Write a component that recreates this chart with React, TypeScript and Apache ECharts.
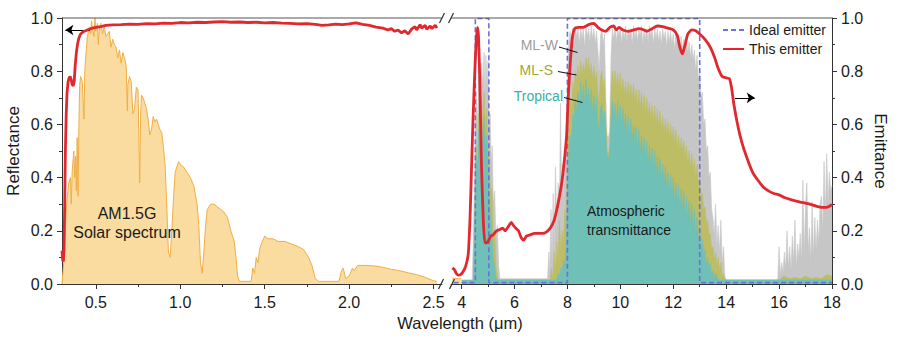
import React, { useEffect, useRef } from 'react';
import * as echarts from 'echarts';

const FONT = '"Liberation Sans", Arial, Helvetica, sans-serif';

// ---- axis ticks ----
const leftTicks = [0.5, 1.0, 1.5, 2.0, 2.5];
const leftMinorTicks = [0.75, 1.25, 1.75, 2.25];
const rightTicks = [4, 6, 8, 10, 12, 14, 16, 18];
const rightMinorTicks = [5, 7, 9, 11, 13, 15, 17];

// ---- left panel: normalized AM1.5G solar spectrum ----
const solarSpectrum: [number, number][] = [
  [0.3, 0.0], [0.31, 0.08], [0.32, 0.22], [0.33, 0.32], [0.34, 0.38], [0.35, 0.4], [0.355, 0.3],
  [0.36, 0.42], [0.37, 0.5], [0.375, 0.4], [0.38, 0.48], [0.385, 0.35], [0.39, 0.55], [0.395, 0.33],
  [0.4, 0.6], [0.405, 0.75], [0.41, 0.78], [0.42, 0.76], [0.43, 0.62], [0.435, 0.8], [0.44, 0.85],
  [0.45, 0.93], [0.46, 0.96], [0.47, 0.94], [0.475, 0.99], [0.48, 0.96], [0.49, 0.93], [0.495, 1.0],
  [0.5, 0.95], [0.51, 0.98], [0.515, 0.9], [0.52, 0.95], [0.525, 0.97], [0.53, 0.98], [0.54, 0.94],
  [0.55, 0.97], [0.56, 0.93], [0.57, 0.94], [0.58, 0.95], [0.59, 0.89], [0.6, 0.92], [0.61, 0.9],
  [0.62, 0.89], [0.63, 0.85], [0.64, 0.88], [0.65, 0.83], [0.66, 0.87], [0.67, 0.85], [0.68, 0.82],
  [0.687, 0.65], [0.69, 0.75], [0.7, 0.78], [0.71, 0.76], [0.72, 0.64], [0.73, 0.66], [0.74, 0.74],
  [0.75, 0.73], [0.76, 0.38], [0.765, 0.62], [0.77, 0.71], [0.78, 0.7], [0.79, 0.68], [0.8, 0.66],
  [0.81, 0.62], [0.82, 0.56], [0.83, 0.58], [0.84, 0.63], [0.85, 0.61], [0.86, 0.62], [0.87, 0.6],
  [0.88, 0.58], [0.89, 0.57], [0.9, 0.52], [0.91, 0.45], [0.92, 0.3], [0.93, 0.12], [0.94, 0.1],
  [0.95, 0.2], [0.96, 0.32], [0.97, 0.42], [0.98, 0.44], [0.99, 0.46], [1.0, 0.45], [1.02, 0.44],
  [1.04, 0.42], [1.06, 0.4], [1.08, 0.37], [1.1, 0.3], [1.11, 0.22], [1.12, 0.08], [1.13, 0.04],
  [1.14, 0.12], [1.15, 0.22], [1.16, 0.28], [1.18, 0.3], [1.2, 0.3], [1.22, 0.29], [1.24, 0.28],
  [1.26, 0.27], [1.28, 0.25], [1.3, 0.2], [1.32, 0.16], [1.33, 0.1], [1.34, 0.03], [1.35, 0.01],
  [1.4, 0.01], [1.42, 0.01], [1.43, 0.06], [1.44, 0.04], [1.45, 0.1], [1.46, 0.08], [1.47, 0.13],
  [1.48, 0.15], [1.5, 0.18], [1.52, 0.17], [1.55, 0.17], [1.58, 0.16], [1.62, 0.16], [1.66, 0.15],
  [1.7, 0.14], [1.73, 0.13], [1.76, 0.1], [1.78, 0.07], [1.8, 0.02], [1.82, 0.01], [1.94, 0.01],
  [1.955, 0.05], [1.965, 0.06], [1.98, 0.02], [2.0, 0.03], [2.02, 0.06], [2.03, 0.05], [2.05, 0.07],
  [2.1, 0.07], [2.15, 0.068], [2.2, 0.063], [2.25, 0.055], [2.3, 0.05], [2.35, 0.042], [2.4, 0.035],
  [2.45, 0.025], [2.5, 0.012], [2.52, 0.01],
];

// ---- left panel: reflectance of this emitter ----
const reflectance: [number, number][] = [
  [0.3, 0.125], [0.304, 0.09], [0.308, 0.085], [0.312, 0.13], [0.316, 0.3], [0.32, 0.5], [0.325, 0.64],
  [0.33, 0.72], [0.336, 0.76], [0.342, 0.775], [0.348, 0.78], [0.354, 0.77], [0.36, 0.75], [0.366, 0.745],
  [0.372, 0.76], [0.378, 0.82], [0.385, 0.87], [0.393, 0.905], [0.4, 0.925], [0.41, 0.94], [0.425, 0.948],
  [0.44, 0.952], [0.46, 0.958], [0.48, 0.962], [0.5, 0.965], [0.53, 0.968], [0.56, 0.972], [0.6, 0.974],
  [0.65, 0.975], [0.7, 0.977], [0.75, 0.976], [0.8, 0.979], [0.85, 0.978], [0.9, 0.981], [0.95, 0.98],
  [1.0, 0.983], [1.05, 0.982], [1.1, 0.984], [1.15, 0.983], [1.2, 0.985], [1.25, 0.986], [1.3, 0.984],
  [1.35, 0.985], [1.4, 0.983], [1.45, 0.984], [1.5, 0.982], [1.55, 0.983], [1.6, 0.981], [1.65, 0.98],
  [1.7, 0.978], [1.75, 0.979], [1.8, 0.976], [1.84, 0.972], [1.88, 0.974], [1.92, 0.977], [1.96, 0.975],
  [2.0, 0.978], [2.04, 0.982], [2.08, 0.976], [2.12, 0.972], [2.16, 0.966], [2.2, 0.962], [2.23, 0.955],
  [2.25, 0.96], [2.27, 0.95], [2.29, 0.955], [2.31, 0.944], [2.33, 0.952], [2.35, 0.94], [2.37, 0.958],
  [2.39, 0.968], [2.4, 0.955], [2.42, 0.975], [2.43, 0.962], [2.45, 0.972], [2.46, 0.958], [2.48, 0.97],
  [2.49, 0.96], [2.51, 0.973], [2.52, 0.962],
];
const reflectanceArrow: [number, number][] = [[0.466, 0.955], [0.32, 0.955]];

// ---- right panel ----
const solarTail: [number, number][] = [[3.65, 0.02], [3.97, 0.02]];

const mlW: [number, number][] = [
  [4.4, 0.015], [4.45, 0.2], [4.5, 0.45], [4.55, 0.72], [4.6, 0.6], [4.65, 0.78], [4.7, 0.68], [4.75, 0.83],
  [4.8, 0.74], [4.85, 0.87], [4.88, 0.7], [4.92, 0.86], [4.96, 0.72], [5.0, 0.84], [5.04, 0.6], [5.08, 0.64],
  [5.12, 0.45], [5.16, 0.52], [5.2, 0.3], [5.25, 0.35], [5.3, 0.16], [5.35, 0.22], [5.4, 0.07], [5.45, 0.02],
  [7.25, 0.02], [7.3, 0.12], [7.33, 0.03], [7.38, 0.28], [7.42, 0.08], [7.46, 0.34], [7.5, 0.12], [7.55, 0.44],
  [7.6, 0.2], [7.65, 0.38], [7.7, 0.3], [7.74, 0.68], [7.78, 0.35], [7.82, 0.45], [7.86, 0.32], [7.9, 0.5],
  [7.95, 0.42], [8.0, 0.72], [8.05, 0.9], [8.1, 0.95], [8.15, 0.9], [8.2, 0.96], [8.25, 0.91], [8.3, 0.97],
  [8.35, 0.93], [8.4, 0.96], [8.45, 0.9], [8.5, 0.97], [8.55, 0.92], [8.6, 0.96], [8.65, 0.89], [8.7, 0.97],
  [8.75, 0.93], [8.8, 0.96], [8.85, 0.91], [8.9, 0.97], [8.95, 0.92], [9.0, 0.96], [9.05, 0.9], [9.1, 0.95],
  [9.15, 0.88], [9.2, 0.8], [9.25, 0.93], [9.3, 0.96], [9.35, 0.9], [9.4, 0.94], [9.45, 0.7], [9.5, 0.56],
  [9.55, 0.55], [9.6, 0.58], [9.65, 0.86], [9.7, 0.96], [9.75, 0.92], [9.8, 0.97], [9.85, 0.91], [9.9, 0.96],
  [9.95, 0.93], [10.0, 0.97], [10.05, 0.9], [10.1, 0.96], [10.15, 0.92], [10.2, 0.97], [10.25, 0.91],
  [10.3, 0.96], [10.35, 0.93], [10.4, 0.96], [10.45, 0.9], [10.5, 0.97], [10.55, 0.92], [10.6, 0.96],
  [10.65, 0.91], [10.7, 0.96], [10.75, 0.93], [10.8, 0.97], [10.85, 0.9], [10.9, 0.96], [10.95, 0.92],
  [11.0, 0.96], [11.05, 0.91], [11.1, 0.97], [11.15, 0.93], [11.2, 0.96], [11.25, 0.9], [11.3, 0.96],
  [11.35, 0.92], [11.4, 0.96], [11.45, 0.91], [11.5, 0.95], [11.55, 0.9], [11.6, 0.96], [11.65, 0.92],
  [11.7, 0.95], [11.75, 0.89], [11.8, 0.95], [11.85, 0.91], [11.9, 0.95], [11.95, 0.9], [12.0, 0.94],
  [12.05, 0.88], [12.1, 0.94], [12.15, 0.9], [12.2, 0.93], [12.25, 0.87], [12.3, 0.93], [12.35, 0.88],
  [12.4, 0.92], [12.45, 0.86], [12.5, 0.92], [12.55, 0.87], [12.6, 0.91], [12.65, 0.85], [12.7, 0.9],
  [12.75, 0.84], [12.8, 0.88], [12.85, 0.8], [12.9, 0.86], [12.95, 0.76], [13.0, 0.8], [13.05, 0.7],
  [13.1, 0.72], [13.15, 0.6], [13.2, 0.62], [13.25, 0.5], [13.3, 0.52], [13.35, 0.4], [13.4, 0.42],
  [13.45, 0.28], [13.5, 0.25], [13.55, 0.18], [13.6, 0.3], [13.65, 0.14], [13.7, 0.22], [13.75, 0.12],
  [13.8, 0.24], [13.85, 0.08], [13.9, 0.14], [13.95, 0.03], [14.0, 0.015], [15.95, 0.015], [16.0, 0.14],
  [16.05, 0.03], [16.1, 0.08], [16.15, 0.04], [16.2, 0.12], [16.25, 0.05], [16.3, 0.2], [16.35, 0.06],
  [16.4, 0.14], [16.45, 0.05], [16.5, 0.18], [16.55, 0.08], [16.6, 0.24], [16.65, 0.06], [16.7, 0.15],
  [16.75, 0.1], [16.8, 0.19], [16.85, 0.08], [16.9, 0.39], [16.95, 0.1], [17.0, 0.3], [17.05, 0.38],
  [17.1, 0.12], [17.15, 0.21], [17.2, 0.08], [17.25, 0.31], [17.3, 0.1], [17.35, 0.25], [17.4, 0.12],
  [17.45, 0.24], [17.5, 0.15], [17.55, 0.3], [17.6, 0.33], [17.65, 0.2], [17.7, 0.46], [17.75, 0.25],
  [17.8, 0.49], [17.85, 0.3], [17.9, 0.42], [17.95, 0.35], [18.0, 0.37],
];

const mlS: [number, number][] = [
  [4.45, 0.015], [4.5, 0.3], [4.55, 0.52], [4.6, 0.46], [4.65, 0.64], [4.7, 0.55], [4.75, 0.7], [4.8, 0.6],
  [4.85, 0.72], [4.9, 0.58], [4.95, 0.66], [5.0, 0.52], [5.05, 0.45], [5.1, 0.33], [5.15, 0.36], [5.2, 0.18],
  [5.25, 0.2], [5.3, 0.07], [5.35, 0.03], [5.4, 0.015], [7.35, 0.015], [7.4, 0.06], [7.45, 0.02], [7.5, 0.12],
  [7.55, 0.04], [7.6, 0.16], [7.65, 0.08], [7.7, 0.24], [7.75, 0.12], [7.8, 0.2], [7.85, 0.15], [7.9, 0.28],
  [7.95, 0.22], [8.0, 0.5], [8.05, 0.62], [8.1, 0.7], [8.15, 0.66], [8.2, 0.76], [8.25, 0.72], [8.3, 0.8],
  [8.35, 0.76], [8.4, 0.82], [8.45, 0.77], [8.5, 0.84], [8.55, 0.78], [8.6, 0.83], [8.65, 0.79], [8.7, 0.85],
  [8.75, 0.8], [8.8, 0.85], [8.85, 0.78], [8.9, 0.83], [8.95, 0.77], [9.0, 0.82], [9.05, 0.76], [9.1, 0.8],
  [9.15, 0.72], [9.2, 0.68], [9.25, 0.78], [9.3, 0.8], [9.35, 0.74], [9.4, 0.77], [9.45, 0.62], [9.5, 0.5],
  [9.55, 0.49], [9.6, 0.52], [9.65, 0.72], [9.7, 0.8], [9.75, 0.75], [9.8, 0.8], [9.85, 0.74], [9.9, 0.79],
  [9.95, 0.73], [10.0, 0.79], [10.05, 0.72], [10.1, 0.77], [10.15, 0.71], [10.2, 0.76], [10.25, 0.7],
  [10.3, 0.76], [10.35, 0.7], [10.4, 0.75], [10.45, 0.69], [10.5, 0.75], [10.55, 0.68], [10.6, 0.73],
  [10.65, 0.67], [10.7, 0.73], [10.75, 0.66], [10.8, 0.72], [10.85, 0.65], [10.9, 0.71], [10.95, 0.64],
  [11.0, 0.7], [11.05, 0.63], [11.1, 0.68], [11.15, 0.62], [11.2, 0.67], [11.25, 0.61], [11.3, 0.67],
  [11.35, 0.6], [11.4, 0.66], [11.45, 0.59], [11.5, 0.65], [11.55, 0.58], [11.6, 0.63], [11.65, 0.57],
  [11.7, 0.62], [11.75, 0.56], [11.8, 0.61], [11.85, 0.55], [11.9, 0.6], [11.95, 0.54], [12.0, 0.59],
  [12.05, 0.53], [12.1, 0.58], [12.15, 0.51], [12.2, 0.56], [12.25, 0.5], [12.3, 0.55], [12.35, 0.49],
  [12.4, 0.54], [12.45, 0.47], [12.5, 0.52], [12.55, 0.45], [12.6, 0.5], [12.65, 0.44], [12.7, 0.49],
  [12.75, 0.42], [12.8, 0.47], [12.85, 0.4], [12.9, 0.45], [12.95, 0.37], [13.0, 0.4], [13.05, 0.33],
  [13.1, 0.34], [13.15, 0.28], [13.2, 0.29], [13.25, 0.23], [13.3, 0.24], [13.35, 0.18], [13.4, 0.19],
  [13.45, 0.13], [13.5, 0.14], [13.55, 0.09], [13.6, 0.12], [13.65, 0.07], [13.7, 0.1], [13.75, 0.05],
  [13.8, 0.08], [13.85, 0.03], [13.9, 0.04], [13.95, 0.015], [16.0, 0.015], [16.2, 0.03], [16.4, 0.02],
  [16.6, 0.025], [16.8, 0.02], [17.0, 0.03], [17.2, 0.02], [17.4, 0.025], [17.6, 0.02], [17.8, 0.035],
  [18.0, 0.03],
];

const tropical: [number, number][] = [
  [4.0, 0.015], [4.45, 0.015], [4.5, 0.25], [4.55, 0.48], [4.6, 0.4], [4.65, 0.58], [4.7, 0.48], [4.75, 0.62],
  [4.8, 0.5], [4.85, 0.63], [4.9, 0.5], [4.95, 0.56], [5.0, 0.42], [5.05, 0.3], [5.1, 0.24], [5.15, 0.17],
  [5.2, 0.09], [5.25, 0.06], [5.3, 0.025], [5.35, 0.015], [7.6, 0.015], [7.65, 0.04], [7.7, 0.02],
  [7.75, 0.06], [7.8, 0.04], [7.85, 0.09], [7.9, 0.07], [7.95, 0.14], [8.0, 0.35], [8.05, 0.48], [8.1, 0.56],
  [8.15, 0.52], [8.2, 0.64], [8.25, 0.6], [8.3, 0.7], [8.35, 0.64], [8.4, 0.72], [8.45, 0.66], [8.5, 0.76],
  [8.55, 0.68], [8.6, 0.75], [8.65, 0.67], [8.7, 0.77], [8.75, 0.68], [8.8, 0.74], [8.85, 0.66], [8.9, 0.73],
  [8.95, 0.64], [9.0, 0.71], [9.05, 0.63], [9.1, 0.7], [9.15, 0.6], [9.2, 0.58], [9.25, 0.66], [9.3, 0.68],
  [9.35, 0.61], [9.4, 0.65], [9.45, 0.56], [9.5, 0.48], [9.55, 0.47], [9.6, 0.5], [9.65, 0.62], [9.7, 0.69],
  [9.75, 0.62], [9.8, 0.68], [9.85, 0.61], [9.9, 0.69], [9.95, 0.6], [10.0, 0.67], [10.05, 0.59],
  [10.1, 0.66], [10.15, 0.58], [10.2, 0.64], [10.25, 0.56], [10.3, 0.63], [10.35, 0.55], [10.4, 0.62],
  [10.45, 0.53], [10.5, 0.6], [10.55, 0.52], [10.6, 0.59], [10.65, 0.5], [10.7, 0.58], [10.75, 0.49],
  [10.8, 0.56], [10.85, 0.48], [10.9, 0.55], [10.95, 0.46], [11.0, 0.54], [11.05, 0.45], [11.1, 0.52],
  [11.15, 0.44], [11.2, 0.51], [11.25, 0.42], [11.3, 0.5], [11.35, 0.41], [11.4, 0.48], [11.45, 0.4],
  [11.5, 0.47], [11.55, 0.38], [11.6, 0.45], [11.65, 0.37], [11.7, 0.44], [11.75, 0.35], [11.8, 0.42],
  [11.85, 0.34], [11.9, 0.41], [11.95, 0.33], [12.0, 0.4], [12.05, 0.31], [12.1, 0.38], [12.15, 0.3],
  [12.2, 0.37], [12.25, 0.28], [12.3, 0.36], [12.35, 0.27], [12.4, 0.35], [12.45, 0.25], [12.5, 0.33],
  [12.55, 0.24], [12.6, 0.31], [12.65, 0.22], [12.7, 0.3], [12.75, 0.2], [12.8, 0.28], [12.85, 0.18],
  [12.9, 0.25], [12.95, 0.15], [13.0, 0.21], [13.05, 0.12], [13.1, 0.17], [13.15, 0.1], [13.2, 0.13],
  [13.25, 0.07], [13.3, 0.1], [13.35, 0.05], [13.4, 0.08], [13.45, 0.03], [13.5, 0.05], [13.55, 0.02],
  [13.6, 0.04], [13.7, 0.015], [18.0, 0.015],
];

const idealEmitter: [number, number][] = [
  [3.7, 0.005], [4.52, 0.005], [4.52, 0.998], [5.03, 0.998], [5.03, 0.005], [8.0, 0.005], [8.0, 0.998],
  [13.0, 0.998], [13.0, 0.005], [18.0, 0.005],
];

const emittance: [number, number][] = [
  [3.65, 0.06], [3.72, 0.055], [3.8, 0.04], [3.88, 0.033], [3.96, 0.035], [4.05, 0.045], [4.15, 0.065],
  [4.25, 0.11], [4.32, 0.25], [4.38, 0.45], [4.44, 0.64], [4.5, 0.8], [4.55, 0.91], [4.6, 0.965],
  [4.64, 0.93], [4.69, 0.76], [4.75, 0.45], [4.82, 0.24], [4.88, 0.155], [4.95, 0.155], [5.0, 0.16],
  [5.1, 0.18], [5.2, 0.185], [5.32, 0.2], [5.45, 0.205], [5.55, 0.21], [5.65, 0.2], [5.76, 0.215],
  [5.88, 0.232], [5.96, 0.22], [6.05, 0.21], [6.15, 0.2], [6.25, 0.175], [6.35, 0.165], [6.45, 0.18],
  [6.6, 0.185], [6.75, 0.19], [6.9, 0.19], [7.05, 0.19], [7.2, 0.195], [7.35, 0.21], [7.5, 0.24],
  [7.6, 0.28], [7.7, 0.33], [7.8, 0.39], [7.9, 0.48], [7.97, 0.56], [8.03, 0.7], [8.1, 0.82], [8.18, 0.92],
  [8.27, 0.96], [8.4, 0.965], [8.6, 0.965], [8.8, 0.975], [9.0, 0.98], [9.15, 0.965], [9.3, 0.955],
  [9.45, 0.95], [9.6, 0.965], [9.75, 0.97], [9.85, 0.955], [9.95, 0.965], [10.1, 0.955], [10.3, 0.95],
  [10.5, 0.955], [10.7, 0.96], [10.9, 0.955], [11.0, 0.95], [11.2, 0.96], [11.4, 0.97], [11.6, 0.968],
  [11.8, 0.962], [12.0, 0.955], [12.15, 0.935], [12.25, 0.89], [12.35, 0.865], [12.45, 0.9], [12.55, 0.94],
  [12.7, 0.955], [12.85, 0.952], [13.0, 0.94], [13.2, 0.92], [13.4, 0.89], [13.55, 0.855], [13.7, 0.81],
  [13.85, 0.78], [14.0, 0.775], [14.12, 0.772], [14.2, 0.74], [14.3, 0.67], [14.45, 0.59], [14.6, 0.53],
  [14.8, 0.47], [15.0, 0.42], [15.2, 0.39], [15.4, 0.365], [15.6, 0.35], [15.8, 0.34], [16.0, 0.335],
  [16.2, 0.325], [16.5, 0.315], [16.8, 0.308], [17.1, 0.302], [17.4, 0.293], [17.6, 0.288], [17.8, 0.288],
  [17.95, 0.295], [18.0, 0.3],
];
const emittanceArrow: [number, number][] = [[14.33, 0.7], [15.08, 0.7]];

// ---- layout ----
const GT = 18;
const GH = 266;
const L0 = 62;
const W0 = 380;
const L1 = 451;
const W1 = 381;
const AX = '#333';
const TXT = '#1a1a1a';
const RED = '#E0282E';

const lineSty = { color: AX, width: 1 };

function bottomAxis(grid: number, min: number, max: number, ticks: number[], fmt: (v: number) => string) {
  return {
    gridIndex: grid, type: 'value', min, max, position: 'bottom',
    axisLine: { show: true, onZero: false, lineStyle: lineSty },
    axisTick: { show: true, inside: false, length: 5, customValues: ticks, lineStyle: lineSty },
    axisLabel: { show: true, customValues: ticks, formatter: fmt, fontSize: 16, color: TXT, margin: 10, fontFamily: FONT },
    splitLine: { show: false },
  };
}
function minorAxis(grid: number, min: number, max: number, ticks: number[]) {
  return {
    gridIndex: grid, type: 'value', min, max, position: 'top', offset: -GH,
    axisLine: { show: false },
    axisTick: { show: true, inside: true, length: 3, customValues: ticks, lineStyle: lineSty },
    axisLabel: { show: false },
    splitLine: { show: false },
  };
}
function yAxis(grid: number, pos: string, name: string, rot: number, gap: number) {
  return {
    gridIndex: grid, type: 'value', min: 0, max: 1, interval: 0.2, position: pos,
    name, nameLocation: 'middle', nameGap: gap, nameRotate: rot,
    nameTextStyle: { fontSize: 17, color: TXT, fontFamily: FONT },
    axisLine: { show: true, lineStyle: lineSty },
    axisTick: { show: true, inside: false, length: 5, lineStyle: lineSty },
    minorTick: { show: true, splitNumber: 2, length: 3, lineStyle: lineSty },
    axisLabel: { formatter: (v: number) => v.toFixed(1), fontSize: 16, color: TXT, margin: 9, fontFamily: FONT },
    splitLine: { show: false },
    minorSplitLine: { show: false },
  };
}

function slash(x: number, y: number) {
  return { type: 'line', shape: { x1: x - 2.5, y1: y + 5, x2: x + 2.5, y2: y - 5 }, style: { stroke: AX, lineWidth: 1.2 }, z: 100 };
}
function txt(text: string, x: number, y: number, size: number, fill: string, align: string) {
  return { type: 'text', x, y, z: 100, style: { text, fontSize: size, fontFamily: FONT, fill, align, verticalAlign: 'middle' } };
}
function lead(x1: number, y1: number, x2: number, y2: number) {
  return { type: 'line', shape: { x1, y1, x2, y2 }, style: { stroke: '#111', lineWidth: 1 }, z: 100 };
}

const arrowMark = (pts: [number, number][]) => ({
  silent: true,
  symbol: ['none', 'arrow'],
  symbolSize: 8,
  lineStyle: { color: '#000', width: 1, type: 'solid' },
  label: { show: false },
  emphasis: { disabled: true },
  data: [[{ coord: pts[0] }, { coord: pts[1] }]],
});

const areaSeries = (name: string, data: [number, number][], color: string, z: number) => ({
  name, type: 'line', xAxisIndex: 1, yAxisIndex: 1, data, symbol: 'none', z,
  lineStyle: { color, width: 0.6 }, itemStyle: { color },
  areaStyle: { color, opacity: 1 },
});

const option = {
  animation: false,
  backgroundColor: '#fff',
  textStyle: { fontFamily: FONT },
  grid: [
    { left: L0, top: GT, width: W0, height: GH },
    { left: L1, top: GT, width: W1, height: GH },
  ],
  xAxis: [
    bottomAxis(0, 0.3, 2.55, leftTicks, (v: number) => v.toFixed(1)),
    bottomAxis(1, 3.6, 18, rightTicks, (v: number) => String(v)),
    minorAxis(0, 0.3, 2.55, leftMinorTicks),
    minorAxis(1, 3.6, 18, rightMinorTicks),
  ],
  yAxis: [
    yAxis(0, 'left', 'Reflectance', 90, 40),
    yAxis(1, 'right', 'Emittance', -90, 40),
  ],
  legend: {
    data: ['Ideal emitter', 'This emitter'],
    orient: 'vertical', left: 722, top: 23, padding: 0, itemGap: 5,
    itemWidth: 21, itemHeight: 12, selectedMode: false,
    itemStyle: { opacity: 0 },
    textStyle: { fontSize: 14, color: TXT, fontFamily: FONT },
  },
  graphic: [
    { type: 'line', shape: { x1: L0, y1: GT, x2: L0 + W0, y2: GT }, style: { stroke: '#555', lineWidth: 1 }, z: 100 },
    { type: 'line', shape: { x1: L1, y1: GT, x2: L1 + W1, y2: GT }, style: { stroke: '#555', lineWidth: 1 }, z: 100 },
    slash(L0 + W0, GT), slash(L1, GT), slash(L0 + W0 - 1, GT + GH), slash(L1 + 1, GT + GH),
    txt('AM1.5G', 127, 213, 16, TXT, 'center'),
    txt('Solar spectrum', 127, 232, 16, TXT, 'center'),
    txt('ML-W', 558, 45, 14, '#9c9c9c', 'right'),
    txt('ML-S', 553, 70, 14, '#a6a630', 'right'),
    txt('Tropical', 563, 96, 14, '#3cb0a6', 'right'),
    lead(559, 47, 577.5, 52.5),
    lead(558, 71.5, 576.5, 75),
    lead(564, 97.5, 582.5, 102.5),
    txt('Atmospheric', 587, 211, 14, TXT, 'left'),
    txt('transmittance', 587, 230, 14, TXT, 'left'),
    txt('Wavelength (\u03bcm)', 460, 323, 16.5, TXT, 'center'),
  ],
  series: [
    {
      name: 'AM1.5G', type: 'line', xAxisIndex: 0, yAxisIndex: 0, data: solarSpectrum, symbol: 'none', z: 2,
      lineStyle: { color: '#F0AE45', width: 1 }, areaStyle: { color: '#FBDCA0', opacity: 1 },
    },
    {
      name: 'Reflectance', type: 'line', xAxisIndex: 0, yAxisIndex: 0, data: reflectance, symbol: 'none', z: 10,
      lineStyle: { color: RED, width: 2.8 }, itemStyle: { color: RED },
      markLine: arrowMark(reflectanceArrow),
    },
    {
      name: 'AM1.5G tail', type: 'line', xAxisIndex: 1, yAxisIndex: 1, data: solarTail, symbol: 'none', z: 2,
      lineStyle: { color: '#F0AE45', width: 1 }, areaStyle: { color: '#FBDCA0', opacity: 1 },
    },
    areaSeries('ML-W', mlW, '#C6C6C6', 3),
    areaSeries('ML-S', mlS, '#BDBD66', 4),
    areaSeries('Tropical', tropical, '#6FC0B7', 5),
    {
      name: 'Ideal emitter', type: 'line', xAxisIndex: 1, yAxisIndex: 1, data: idealEmitter, symbol: 'none', z: 8,
      lineStyle: { color: '#6F6FDC', width: 1.6, type: [5, 3] }, itemStyle: { color: '#6F6FDC' },
    },
    {
      name: 'This emitter', type: 'line', xAxisIndex: 1, yAxisIndex: 1, data: emittance, symbol: 'none', z: 10,
      smooth: 0.2, lineStyle: { color: RED, width: 2.8 }, itemStyle: { color: RED },
      markLine: arrowMark(emittanceArrow),
    },
  ],
};

export default function App() {
  const ref = useRef<HTMLDivElement>(null);
  useEffect(() => {
    if (!ref.current) return;
    const chart = echarts.init(ref.current, undefined, { renderer: 'svg' });
    chart.setOption(option as any);
    return () => chart.dispose();
  }, []);
  return (
    <div
      ref={ref}
      style={{ position: 'absolute', left: 0, top: 0, width: 900, height: 341, background: '#fff' }}
    />
  );
}
